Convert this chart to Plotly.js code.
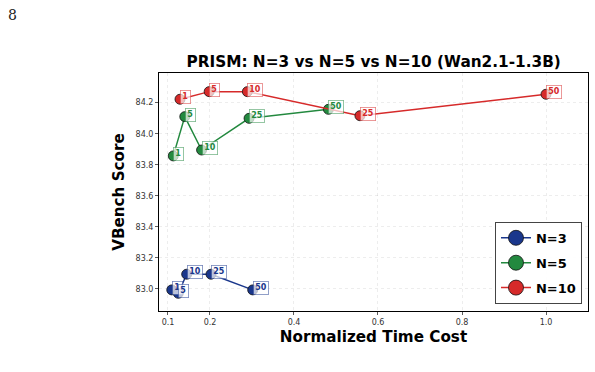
<!DOCTYPE html>
<html>
<head>
<meta charset="utf-8">
<script src="https://cdn.plot.ly/plotly-3.0.1.min.js"></script>
<style>
  html, body { margin: 0; padding: 0; background: #ffffff; }
  #chart { width: 595px; height: 372px; }
</style>
</head>
<body>
<div id="chart"></div>
<script>
// Normalized time cost vs. VBench score for each PRISM setting
const stepLabels = ['1', '5', '10', '25', '50'];

const n3Time  = [0.109, 0.1245, 0.1445, 0.2024, 0.3017];
const n3Score = [82.994, 82.972, 83.095, 83.095, 82.994];

const n5Time  = [0.1126, 0.140, 0.180, 0.293, 0.482];
const n5Score = [83.857, 84.110, 83.895, 84.099, 84.157];

const n10Time  = [0.1286, 0.198, 0.289, 0.557, 1.0];
const n10Score = [84.222, 84.271, 84.271, 84.116, 84.254];

const seriesNames  = ['N=3', 'N=5', 'N=10'];
const seriesColors = ['#1a378c', '#23893f', '#d62a2a'];
const seriesBorder = ['rgba(26,55,140,0.6)', 'rgba(35,137,63,0.6)', 'rgba(214,42,42,0.6)'];

const xTicks = [0.1, 0.2, 0.4, 0.6, 0.8, 1.0];
const xTickText = ['0.1', '0.2', '0.4', '0.6', '0.8', '1.0'];
const yTicks = [83.0, 83.2, 83.4, 83.6, 83.8, 84.0, 84.2];
const yTickText = ['83.0', '83.2', '83.4', '83.6', '83.8', '84.0', '84.2'];

const series = [
  { x: n3Time, y: n3Score },
  { x: n5Time, y: n5Score },
  { x: n10Time, y: n10Score }
];

const traces = [];
const annotations = [];

series.forEach((s, i) => {
  traces.push({
    x: s.x, y: s.y,
    type: 'scatter', mode: 'lines+markers',
    name: seriesNames[i], showlegend: false,
    line: { color: seriesColors[i], width: 1.5 },
    marker: { color: seriesColors[i], size: 10, line: { color: '#111111', width: 0.8 } },
    hoverinfo: 'skip'
  });
  s.x.forEach((xv, j) => {
    annotations.push({
      x: xv, y: s.y[j], xref: 'x', yref: 'y',
      text: '<b>' + stepLabels[j] + '</b>',
      showarrow: false, xanchor: 'left', yanchor: 'middle',
      yshift: 2,
      font: { family: 'DejaVu Sans', size: 8, color: seriesColors[i] },
      bgcolor: 'rgba(255,255,255,0.7)',
      bordercolor: seriesBorder[i], borderwidth: 0.8, borderpad: 1.5
    });
  });
});

// legend entries with larger handles
series.forEach((s, i) => {
  traces.push({
    x: [null], y: [null],
    type: 'scatter', mode: 'lines+markers',
    name: '<b>' + seriesNames[i] + '</b>',
    legendgroup: 'g' + i,
    line: { color: seriesColors[i], width: 1.5 },
    marker: { color: seriesColors[i], size: 15, line: { color: '#111111', width: 0.8 } }
  });
});

// page number
annotations.push({
  x: 0, y: 1, xref: 'paper', yref: 'paper',
  text: '8', showarrow: false,
  xanchor: 'left', yanchor: 'top',
  xshift: -153, yshift: 68,
  font: { family: 'DejaVu Serif', size: 14, color: '#222222' }
});

const layout = {
  width: 595, height: 372,
  margin: { l: 159, r: 7, t: 73, b: 61 },
  paper_bgcolor: '#ffffff', plot_bgcolor: '#ffffff',
  font: { family: 'DejaVu Sans', color: '#000000' },
  title: {
    text: '<b>PRISM: N=3 vs N=5 vs N=10 (Wan2.1-1.3B)</b>',
    font: { family: 'DejaVu Sans', size: 15.3, color: '#000000' },
    x: 0.628, xanchor: 'center',
    y: 0.833, yanchor: 'middle', yref: 'container'
  },
  xaxis: {
    range: [0.0786, 1.1],
    tickvals: xTicks, ticktext: xTickText,
    tickfont: { size: 8, color: '#333333' },
    ticks: 'outside', ticklen: 3, tickwidth: 0.8, tickcolor: '#333333',
    showline: true, linecolor: '#000000', linewidth: 1, mirror: true,
    showgrid: true, gridcolor: 'rgba(0,0,0,0.09)', griddash: 'dot', gridwidth: 0.8,
    zeroline: false,
    title: { text: '<b>Normalized Time Cost</b>', font: { size: 15.2, color: '#000000' }, standoff: 5 }
  },
  yaxis: {
    range: [82.858, 84.391],
    tickvals: yTicks, ticktext: yTickText,
    tickfont: { size: 8, color: '#333333' },
    ticks: 'outside', ticklen: 3, tickwidth: 0.8, tickcolor: '#333333',
    showline: true, linecolor: '#000000', linewidth: 1, mirror: true,
    showgrid: true, gridcolor: 'rgba(0,0,0,0.09)', griddash: 'dot', gridwidth: 0.8,
    zeroline: false,
    title: { text: '<b>VBench Score</b>', font: { size: 15.2, color: '#000000' }, standoff: 7 }
  },
  legend: {
    x: 0.986, y: 0.03, xanchor: 'right', yanchor: 'bottom',
    bgcolor: 'rgba(255,255,255,0.9)', bordercolor: '#444444', borderwidth: 1,
    font: { family: 'DejaVu Sans', size: 13, color: '#000000' },
    tracegroupgap: 5, itemwidth: 30
  },
  annotations: annotations,
  showlegend: true
};

Plotly.newPlot('chart', traces, layout, { staticPlot: true, displayModeBar: false });
</script>
</body>
</html>
